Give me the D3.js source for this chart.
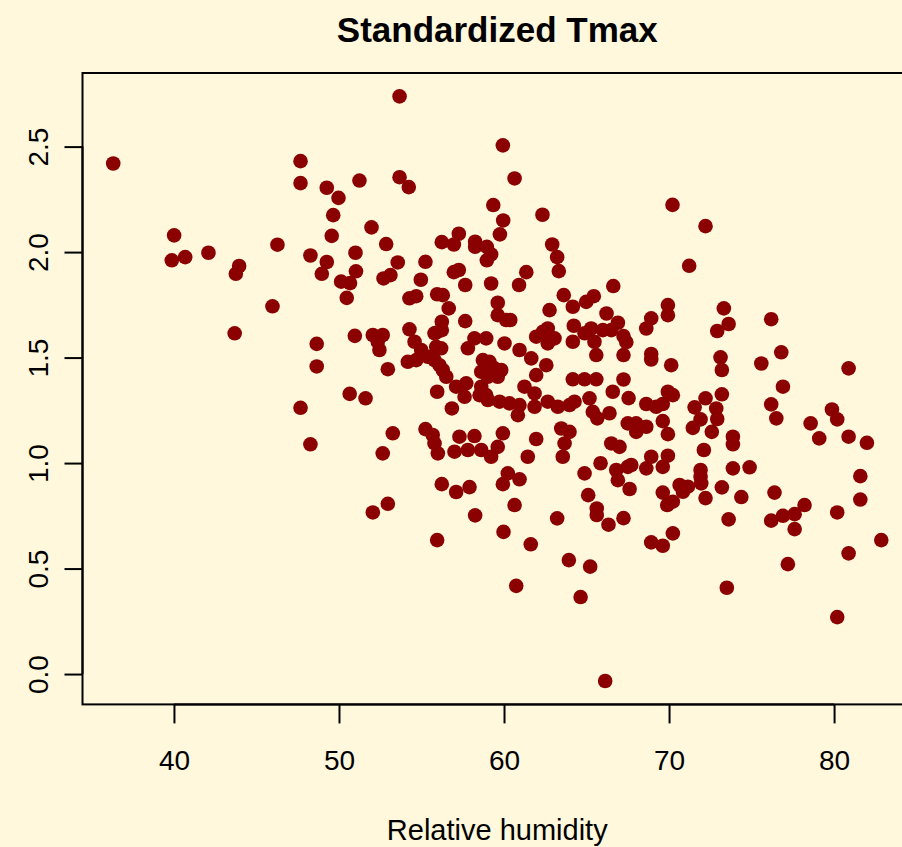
<!DOCTYPE html>
<html>
<head>
<meta charset="utf-8">
<script src="https://cdn.jsdelivr.net/npm/d3@7"></script>
<style>
  body { margin: 0; background: #fff8dc; }
  svg { display: block; font-family: "Liberation Sans", Arial, sans-serif; }
</style>
</head>
<body>
<div class="container"></div>
<script>
// relative humidity (x) and standardized Tmax (y), one entry per day
const humidity = [
  36.32, 47.67, 47.67, 49.26, 49.97, 51.24, 49.65, 49.56, 40.01, 39.87,
  40.68, 42.09, 46.27, 48.27, 49.26, 48.96, 51.00, 51.03, 50.13, 50.67,
  43.95, 43.75, 50.47, 45.97, 43.68, 50.96, 48.65, 48.65, 50.65, 51.61,
  47.67, 48.27, 53.67, 59.93, 60.64, 53.67, 54.23, 59.35, 62.33, 59.95,
  59.75, 51.97, 52.86, 56.23, 57.26, 56.96, 58.25, 58.25, 58.96, 59.22,
  58.96, 53.56, 55.24, 62.92, 63.22, 63.32, 61.35, 56.96, 57.26, 52.70,
  53.12, 54.96, 57.65, 59.22, 60.91, 66.62, 70.21, 72.21, 71.22, 54.27,
  54.68, 55.95, 56.29, 56.65, 59.62, 59.62, 60.13, 60.38, 62.76, 63.62,
  64.17, 64.98, 65.44, 66.21, 57.65, 56.23, 56.23, 55.89, 54.27, 52.05,
  52.65, 52.35, 52.45, 54.58, 54.98, 55.38, 55.79, 55.89, 56.19, 54.17,
  54.68, 55.79, 56.09, 56.29, 56.50, 52.96, 57.81, 58.21, 58.92, 60.03,
  60.94, 61.65, 58.72, 59.12, 59.42, 59.83, 58.62, 59.02, 59.62, 61.95,
  62.35, 62.65, 63.06, 62.65, 64.23, 64.17, 64.88, 65.28, 65.48, 65.99,
  66.50, 66.90, 65.59, 67.24, 67.24, 62.56, 61.95, 64.17, 64.88, 65.59,
  67.24, 66.59, 61.24, 61.85, 61.85, 57.10, 57.71, 57.61, 55.95, 58.62,
  58.52, 58.92, 59.02, 59.73, 60.33, 60.94, 60.84, 62.65, 63.26, 63.97,
  64.27, 65.18, 65.38, 65.65, 66.39, 67.55, 56.84, 67.50, 55.24, 55.68,
  55.79, 55.99, 53.26, 52.65, 57.30, 57.00, 57.81, 58.21, 58.62, 59.22,
  59.62, 59.93, 61.95, 61.44, 63.47, 63.97, 63.67, 63.56, 65.85, 64.88,
  66.50, 67.00, 66.80, 66.90, 67.50, 67.61, 56.23, 57.91, 57.10, 59.93,
  60.94, 60.23, 65.10, 69.93, 69.93, 68.92, 68.62, 73.32, 73.61, 72.92,
  76.19, 67.41, 68.92, 68.92, 70.13, 73.12, 73.20, 76.80, 75.59, 80.88,
  76.90, 76.19, 76.50, 68.62, 69.22, 69.62, 69.93, 70.23, 73.20, 72.21,
  71.55, 72.86, 71.91, 72.92, 71.44, 72.59, 68.01, 68.62, 68.01, 69.62,
  69.93, 73.87, 73.87, 78.58, 79.10, 79.87, 80.19, 80.88, 81.99, 72.11,
  68.92, 69.93, 67.71, 68.62, 69.62, 71.91, 71.91, 71.95, 73.87, 74.88,
  81.59, 70.64, 71.14, 69.62, 73.20, 76.39, 74.38, 72.21, 81.59, 52.05,
  52.96, 58.25, 60.64, 59.97, 55.95, 61.62, 63.22, 65.62, 65.62,
  66.33, 67.24, 63.93, 65.22, 60.74, 64.64, 66.13, 70.23, 69.89, 70.84,
  73.61, 76.19, 76.90, 77.61, 78.21, 77.61, 80.19,
  70.23, 68.92, 69.62, 82.86, 80.88, 77.20, 73.50, 80.19
];

const tmax = [
  2.420, 2.431, 2.327, 2.305, 2.257, 2.339, 2.175, 2.077, 2.079, 1.961,
  1.976, 1.997, 2.035, 1.984, 1.953, 1.897, 1.997, 1.909, 1.860, 1.853,
  1.934, 1.897, 1.783, 1.743, 1.615, 1.603, 1.565, 1.458, 1.328, 1.307,
  1.262, 1.089, 2.738, 2.506, 2.349, 2.355, 2.308, 2.223, 2.177, 2.150,
  2.084, 2.117, 2.038, 2.047, 2.087, 2.036, 2.049, 2.025, 2.025, 1.989,
  1.961, 1.951, 1.954, 2.036, 1.976, 1.910, 1.905, 1.905, 1.915, 1.875,
  1.891, 1.869, 1.844, 1.851, 1.844, 1.839, 2.224, 2.123, 1.935, 1.781,
  1.791, 1.800, 1.796, 1.733, 1.760, 1.701, 1.678, 1.678, 1.725, 1.796,
  1.741, 1.764, 1.791, 1.709, 1.673, 1.670, 1.630, 1.618, 1.634, 1.607,
  1.607, 1.575, 1.536, 1.575, 1.536, 1.504, 1.615, 1.551, 1.544, 1.480,
  1.488, 1.488, 1.464, 1.441, 1.409, 1.445, 1.544, 1.591, 1.591, 1.567,
  1.536, 1.496, 1.488, 1.480, 1.449, 1.441, 1.433, 1.409, 1.409, 1.599,
  1.622, 1.638, 1.591, 1.567, 1.651, 1.575, 1.615, 1.638, 1.575, 1.630,
  1.630, 1.665, 1.512, 1.602, 1.512, 1.464, 1.417, 1.397, 1.397, 1.397,
  1.396, 1.338, 1.362, 1.330, 1.267, 1.362, 1.378, 1.314, 1.338, 1.362,
  1.322, 1.322, 1.299, 1.291, 1.283, 1.275, 1.227, 1.291, 1.267, 1.275,
  1.291, 1.307, 1.243, 1.212, 1.236, 1.308, 1.259, 1.188, 1.161, 1.133,
  1.093, 1.046, 1.141, 1.046, 1.125, 1.054, 1.062, 1.128, 1.062, 1.030,
  1.077, 1.141, 1.114, 1.030, 1.164, 1.148, 1.093, 1.030, 0.999, 0.951,
  1.093, 1.077, 0.967, 0.919, 0.982, 0.877, 0.900, 0.886, 0.863, 0.900,
  0.923, 0.951, 0.848, 1.749, 1.701, 1.686, 1.638, 1.733, 1.659, 1.626,
  1.682, 1.573, 1.517, 1.491, 1.464, 1.501, 1.441, 1.525, 1.472, 1.449,
  1.362, 1.278, 1.212, 1.280, 1.267, 1.280, 1.338, 1.322, 1.326, 1.307,
  1.264, 1.259, 1.207, 1.209, 1.167, 1.148, 1.188, 1.172, 1.148, 1.199,
  1.137, 1.125, 1.089, 1.188, 1.117, 1.254, 1.207, 1.125, 1.096, 1.062,
  1.030, 1.035, 0.991, 0.975, 0.982, 0.967, 0.935, 0.904, 0.975, 0.980,
  0.938, 0.896, 0.888, 0.860, 0.885, 0.860, 0.839, 0.834, 0.827, 0.766,
  0.807, 0.752, 0.801, 0.674, 0.635, 0.615, 0.738, 0.785, 0.754,
  0.708, 0.739, 0.540, 0.509, 0.418, 0.365, -0.033, 0.817, 0.801, 0.864,
  0.733, 0.727, 0.750, 0.758, 0.801, 0.687, 0.766,
  0.667, 0.624, 0.608, 0.635, 0.572, 0.521, 0.409, 0.270
];

const xTicks = [40, 50, 60, 70, 80];
const yTicks = [0, 0.5, 1, 1.5, 2, 2.5];
const title = "Standardized Tmax";
const xLabel = "Relative humidity";

d3.select(".container").call(scatter);

function scatter(container) {
  const data = humidity.map((h, i) => ({ x: h, y: tmax[i] }));

  //size
  const width = 902;
  const height = 847;
  const margin = { left: 82.5, right: -10, top: 73, bottom: 142.6 };

  //scale (R style: data range padded by 4%)
  const pad = (ext) => {
    const d = (ext[1] - ext[0]) * 0.04;
    return [ext[0] - d, ext[1] + d];
  };

  const x = d3
    .scaleLinear()
    .domain(pad(d3.extent(data, (d) => d.x)))
    .range([margin.left, width - margin.right]);

  const y = d3
    .scaleLinear()
    .domain(pad(d3.extent(data, (d) => d.y)))
    .range([height - margin.bottom, margin.top]);

  const svg = container
    .append("svg")
    .attr("width", width)
    .attr("height", height);

  svg
    .append("rect")
    .attr("width", width)
    .attr("height", height)
    .attr("fill", "#fff8dc");

  //points
  svg
    .append("g")
    .selectAll("circle")
    .data(data)
    .join("circle")
    .attr("cx", (d) => x(d.x))
    .attr("cy", (d) => y(d.y))
    .attr("r", 7.3)
    .attr("fill", "#8b0000");

  //box
  svg
    .append("rect")
    .attr("x", margin.left)
    .attr("y", margin.top)
    .attr("width", width - margin.right - margin.left)
    .attr("height", height - margin.bottom - margin.top)
    .attr("fill", "none")
    .attr("stroke", "black")
    .attr("stroke-width", 2);

  //axes
  const xAxis = svg
    .append("g")
    .attr("transform", `translate(0,${height - margin.bottom})`)
    .call(
      d3
        .axisBottom(x)
        .tickValues(xTicks)
        .tickSizeInner(19)
        .tickSizeOuter(0)
        .tickPadding(27)
    );

  const yAxis = svg
    .append("g")
    .attr("transform", `translate(${margin.left},0)`)
    .call(
      d3
        .axisLeft(y)
        .tickValues(yTicks)
        .tickSizeInner(18)
        .tickSizeOuter(0)
        .tickFormat(d3.format(".1f"))
    );

  // R draws the axis line only between the first and last tick
  xAxis
    .select(".domain")
    .attr("d", `M${x(xTicks[0])},0H${x(xTicks[xTicks.length - 1])}`);
  yAxis
    .select(".domain")
    .attr("d", `M0,${y(yTicks[0])}V${y(yTicks[yTicks.length - 1])}`);

  [xAxis, yAxis].forEach((g) => {
    g.select(".domain").attr("stroke-width", 2).attr("stroke", "black");
    g.selectAll(".tick line").attr("stroke-width", 2).attr("stroke", "black");
    g.selectAll("text")
      .attr("font-size", 28)
      .attr("fill", "black")
      .attr("font-family", "Liberation Sans, Arial, sans-serif");
  });

  yAxis
    .selectAll(".tick text")
    .attr("x", null)
    .attr("dy", null)
    .attr("text-anchor", "middle")
    .attr("transform", "translate(-35,0) rotate(-90)");

  //titles
  const cx = (margin.left + width - margin.right) / 2;

  svg
    .append("text")
    .attr("x", cx)
    .attr("y", 42)
    .attr("text-anchor", "middle")
    .attr("font-size", 35)
    .attr("font-weight", "bold")
    .text(title);

  svg
    .append("text")
    .attr("x", cx)
    .attr("y", 840)
    .attr("text-anchor", "middle")
    .attr("font-size", 29)
    .text(xLabel);
}
</script>
</body>
</html>
